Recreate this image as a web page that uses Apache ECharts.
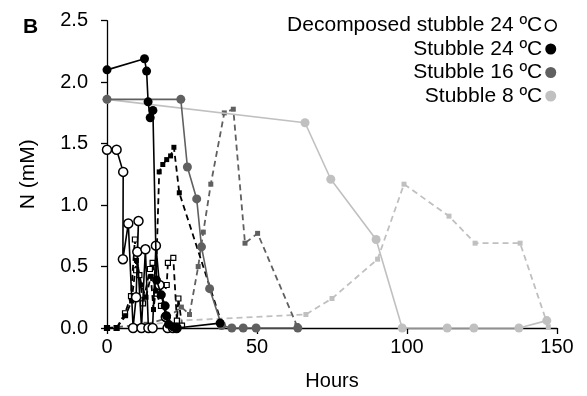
<!DOCTYPE html>
<html><head><meta charset="utf-8">
<script src="https://cdn.jsdelivr.net/npm/echarts@6/dist/echarts.min.js"></script>
<style>html,body{margin:0;padding:0;background:#fff}#c{width:587px;height:396px}</style>
</head><body><div id="c"></div>
<script>
// Solid lines with circles
var decomp24Solid = [[0,1.45],[3.2,1.45],[5.4,1.27],[5.3,0.56],[7.1,0.85],[8.7,0.00],[9.7,0.25],[10.5,0.87],[10.1,0.62],[11.5,0.00],[12.8,0.64],[13.8,0.00],[15.2,0.00],[16.3,0.67],[17.5,0.35],[19.6,0.09],[20.2,0.00],[22,0.00],[23.2,0.00]];
var stubble24Solid = [[0,2.10],[12.5,2.19],[13.2,2.09],[13.7,1.84],[14.4,1.71],[15.3,1.77],[16.5,0.39],[18.1,0.27],[19.4,0.18],[19.8,0.10],[20.5,0.03],[22,0.01],[23.2,0.00],[37.7,0.04]];
var stubble16Solid = [[0,1.86],[24.6,1.86],[26.8,1.31],[29.9,1.05],[31.5,0.66],[34.2,0.32],[38.2,0.02],[41.6,0],[45.4,0],[49.7,0],[63.6,0]];
var stubble8Solid = [[0,1.86],[66,1.67],[74.6,1.21],[89.7,0.72],[98.4,0],[113.4,0],[122.3,0],[137.3,0],[146.6,0.06]];
// Dashed lines with squares
var decomp24Dashed = [[0,0],[3.2,0],[6,0.12],[8,0.26],[9.3,0.72],[9.7,0.47],[10.8,0.43],[12,0.2],[14.3,0.48],[15.2,0.53],[16.5,0.28],[18,0.18],[19.9,0.35],[20.3,0.53],[22.1,0.57],[23.3,0.06],[23.8,0.24],[25,0.02]];
var stubble24Dashed = [[0,0],[3.2,0],[6.2,0.1],[8.2,0.22],[9.8,0.55],[11.5,0.35],[13,0.25],[14.6,0.42],[15.5,0.15],[16.2,0.3],[17.4,1.27],[18.6,1.33],[19.9,1.37],[21.2,1.40],[22.3,1.47],[24.1,1.10],[38.2,0.04]];
var stubble16Dashed = [[0,0],[13,0.03],[20,0.08],[24.8,0.17],[27.5,0.11],[30.4,0.5],[32.1,0.78],[34.6,1.17],[39.1,1.75],[42.1,1.78],[46,0.69],[50.2,0.77],[63.3,0.02]];
var stubble8Dashed = [[0,0],[12,0.02],[24,0.06],[66.3,0.11],[75,0.24],[90.2,0.56],[99,1.17],[114,0.91],[122.7,0.69],[137.7,0.69],[147.1,0.01]];
var legendNames = ['Decomposed stubble 24 ºC','Stubble 24 ºC','Stubble 16 ºC','Stubble 8 ºC'];
var yTicks = [0,0.5,1.0,1.5,2.0,2.5];

var FONT = 'Liberation Sans, Arial, sans-serif';
var C_BLACK = '#000000', C_DARK = '#606060', C_LIGHT = '#c0c0c0';

function dashed(name, data, color, filled) {
  return {name: name, type: 'line', data: data, clip: false, z: 2,
    symbol: 'rect', symbolSize: 5, showSymbol: true,
    lineStyle: {color: color, width: 1.8, type: [6, 4]},
    itemStyle: filled ? {color: color} : {color: '#fff', borderColor: color, borderWidth: 1.2},
    emphasis: {disabled: true}, animation: false};
}
function solid(name, data, color, open, z) {
  return {name: name, type: 'line', data: data, clip: false, z: z,
    symbol: 'circle', symbolSize: 9, showSymbol: true,
    lineStyle: {color: color, width: 1.6},
    itemStyle: open ? {color: '#fff', borderColor: color, borderWidth: 1.5} : {color: color},
    emphasis: {disabled: true}, animation: false};
}

var chart = echarts.init(document.getElementById('c'), null, {renderer: 'canvas'});
chart.setOption({
  animation: false,
  backgroundColor: '#fff',
  grid: {left: 107, right: 30, top: 20.7, bottom: 67.7, containLabel: false},
  graphic: [{type: 'text', left: 23, top: 17, z: 10,
    style: {text: 'B', fontSize: 21, fontWeight: 'bold', fontFamily: 'Liberation Sans', fill: '#000'}}],
  legend: {
    data: legendNames.map(function(n, i){
      var st = [ {color:'#fff', borderColor:'#000', borderWidth:1.5}, {color:C_BLACK}, {color:C_DARK}, {color:C_LIGHT} ][i];
      return {name: n, icon: 'circle', itemStyle: st};
    }),
    orient: 'vertical', right: 25, top: 10, align: 'right',
    itemWidth: 11, itemHeight: 11, itemGap: 2.5,
    textStyle: {fontFamily: FONT, fontSize: 21, color: '#000', padding: [0, -2, 0, 0]},
    selectedMode: false
  },
  xAxis: {
    type: 'value', min: 0, max: 150, interval: 50,
    name: 'Hours', nameLocation: 'middle', nameGap: 43,
    nameTextStyle: {fontFamily: FONT, fontSize: 20, color: '#000'},
    axisLine: {show: true, lineStyle: {color: '#000', width: 1.3}},
    axisTick: {show: true, length: 6, lineStyle: {color: '#000', width: 1.3}},
    axisLabel: {fontFamily: FONT, fontSize: 20, color: '#000', margin: 9},
    splitLine: {show: false}
  },
  yAxis: {
    type: 'value', min: 0, max: 2.5, interval: 0.5,
    name: 'N (mM)', nameLocation: 'middle', nameGap: 68,
    nameTextStyle: {fontFamily: FONT, fontSize: 21, color: '#000'},
    axisLine: {show: true, lineStyle: {color: '#000', width: 1.3}},
    axisTick: {show: true, length: 6, lineStyle: {color: '#000', width: 1.3}},
    axisLabel: {fontFamily: FONT, fontSize: 20, color: '#000', margin: 19,
      formatter: function(v){ return yTicks.indexOf(v) >= 0 ? v.toFixed(1) : ''; }},
    splitLine: {show: false}
  },
  series: [
    dashed('d8', stubble8Dashed, C_LIGHT, true),
    dashed('d16', stubble16Dashed, C_DARK, true),
    dashed('dd24', decomp24Dashed, C_BLACK, false),
    dashed('d24', stubble24Dashed, C_BLACK, true),
    solid(legendNames[3], stubble8Solid, C_LIGHT, false, 3),
    solid(legendNames[2], stubble16Solid, C_DARK, false, 4),
    solid(legendNames[0], decomp24Solid, C_BLACK, true, 5),
    solid(legendNames[1], stubble24Solid, C_BLACK, false, 6)
  ]
});
</script></body></html>
